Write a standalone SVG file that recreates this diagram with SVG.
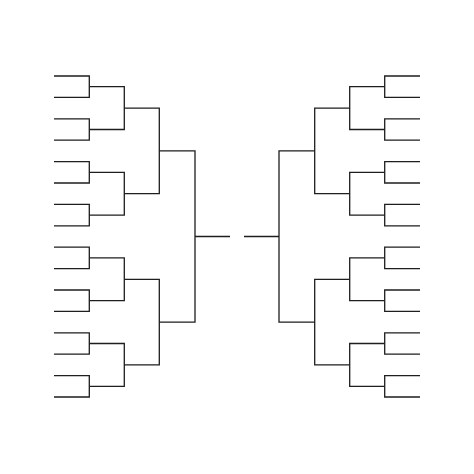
<svg xmlns="http://www.w3.org/2000/svg" width="474" height="474" viewBox="0 0 474 474">
<style>
path{fill:none;stroke:#1e1e1e;stroke-width:1.3;stroke-linecap:butt;stroke-linejoin:miter}
</style>
<rect width="474" height="474" fill="#ffffff"/>
<g id="connectors">
<g id="left-round1">
<path d="M54 76H89.3V97.4H54"/>
<path d="M54 118.8H89.3V140.2H54"/>
<path d="M54 161.6H89.3V183H54"/>
<path d="M54 204.4H89.3V225.8H54"/>
<path d="M54 247.2H89.3V268.6H54"/>
<path d="M54 290H89.3V311.4H54"/>
<path d="M54 332.8H89.3V354.2H54"/>
<path d="M54 375.6H89.3V397H54"/>
</g>
<g id="left-round2">
<path d="M89.3 86.7H124.3V129.5H89.3"/>
<path d="M89.3 172.3H124.3V215.1H89.3"/>
<path d="M89.3 257.9H124.3V300.7H89.3"/>
<path d="M89.3 343.5H124.3V386.3H89.3"/>
</g>
<g id="left-round3">
<path d="M124.3 108.1H159.3V193.7H124.3"/>
<path d="M124.3 279.3H159.3V364.9H124.3"/>
</g>
<g id="left-round4">
<path d="M159.3 150.9H195V322.1H159.3"/>
<path d="M195 236.5H230"/>
</g>
<g id="right-round1">
<path d="M420 76H384.7V97.4H420"/>
<path d="M420 118.8H384.7V140.2H420"/>
<path d="M420 161.6H384.7V183H420"/>
<path d="M420 204.4H384.7V225.8H420"/>
<path d="M420 247.2H384.7V268.6H420"/>
<path d="M420 290H384.7V311.4H420"/>
<path d="M420 332.8H384.7V354.2H420"/>
<path d="M420 375.6H384.7V397H420"/>
</g>
<g id="right-round2">
<path d="M384.7 86.7H349.7V129.5H384.7"/>
<path d="M384.7 172.3H349.7V215.1H384.7"/>
<path d="M384.7 257.9H349.7V300.7H384.7"/>
<path d="M384.7 343.5H349.7V386.3H384.7"/>
</g>
<g id="right-round3">
<path d="M349.7 108.1H314.7V193.7H349.7"/>
<path d="M349.7 279.3H314.7V364.9H349.7"/>
</g>
<g id="right-round4">
<path d="M314.7 150.9H279V322.1H314.7"/>
<path d="M279 236.5H244"/>
</g>
</g>
</svg>
